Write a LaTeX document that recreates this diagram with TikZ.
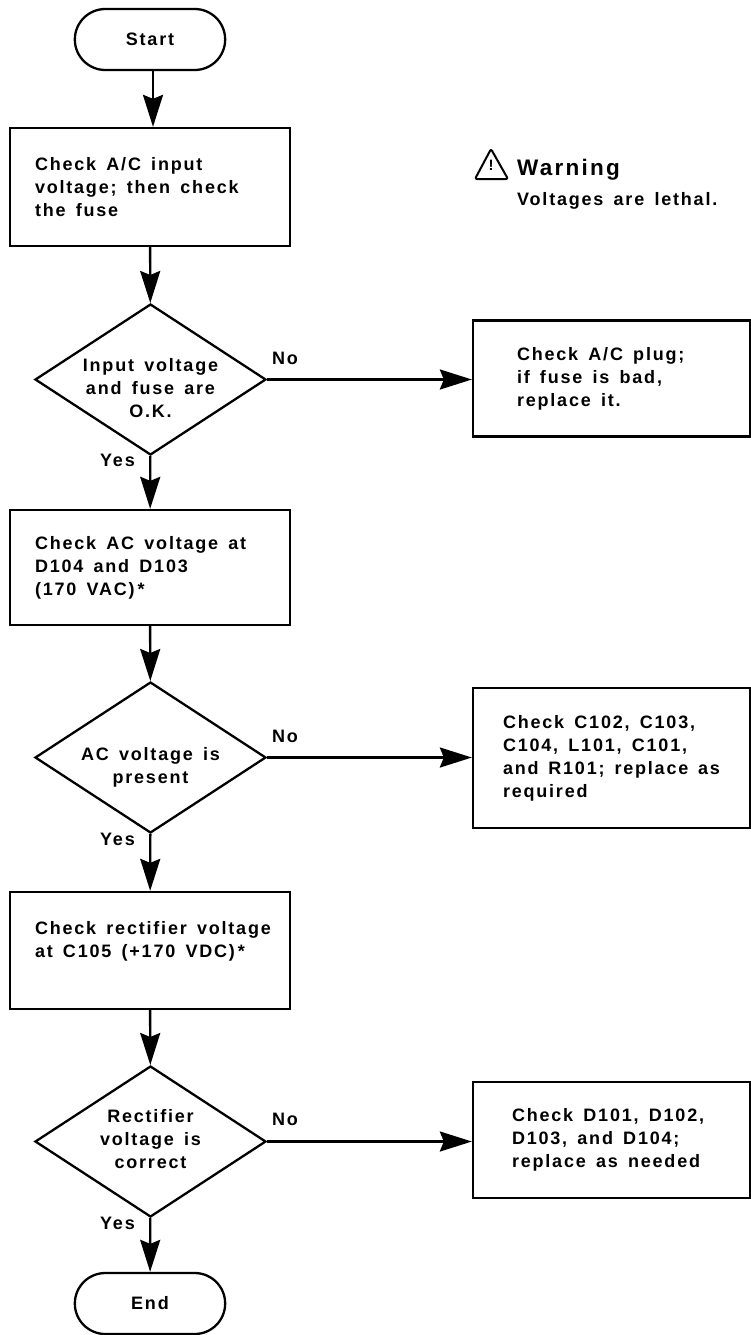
\documentclass[tikz,border=0pt]{standalone}
\usepackage{fontspec}
\setmainfont{Liberation Sans}[LetterSpace=10,WordSpace=1.5]
\usepackage{tikz}
\usetikzlibrary{calc,arrows.meta,shapes.geometric,shapes.misc}
\def\bodyfont{\fontsize{18}{23}\selectfont\bfseries}
\tikzset{
    flowline/.style={line width=2.4pt,-{Stealth[length=32pt,width=20pt,inset=4pt]}},
    outline/.style={draw,line width=2.3pt},
    stepbox/.style={outline,rectangle,minimum height=#1,text width=230pt,inner xsep=25pt,inner ysep=0pt,align=flush left,font=\bodyfont},
    stepbox/.default=116pt,
    sidebox/.style={outline,rectangle,minimum height=116pt,text width={277pt-2*#1},inner xsep=#1,inner ysep=0pt,align=flush left,font=\bodyfont},
    query/.style={outline,diamond,aspect=1.53,inner sep=0pt,minimum width=231pt,minimum height=151pt},
    querytext/.style={align=center,inner sep=0pt,font=\bodyfont},
    terminal/.style={outline,rounded rectangle,minimum width=157pt,minimum height=61pt,font=\bodyfont},
    tag/.style={inner sep=0pt,font=\bodyfont},
}
\hfuzz=20pt
\begin{document}
\begin{tikzpicture}[x=1pt,y=-1pt]
    \useasboundingbox (0,0) rectangle (751,1335);
    \node[terminal] (start) at (150,39.5) {Start};
    \node[stepbox=118pt] (check1) at (150,187) {Check A/C input\\voltage; then check\\the fuse};
    \node[query] (q1) at (150.5,379.5) {};
    \node[querytext] (q1text) at (150.5,388) {Input voltage\\and fuse are\\O.K.};
    \node[sidebox=44pt] (fix1) at (611.5,378.5) {Check A/C plug;\\if fuse is bad,\\replace it.};
    \node[stepbox=115pt] (check2) at (150,567.5) {Check AC voltage at\\D104 and D103\\(170 VAC)\,*};
    \node[query] (q2) at (150.5,757.5) {};
    \node[querytext] (q2text) at (150.5,767) {AC voltage is\\present};
    \node[sidebox=30pt,minimum height=140pt] (fix2) at (611.5,758) {Check C102, C103,\\C104, L101, C101,\\and R101; replace as\\required};
    \node[stepbox=117pt] (check3) at (150,950.5) {\mbox{Check rectifier voltage}\\at C105 (+170 VDC)\,*\\\mbox{}};
    \node[query] (q3) at (150.5,1141.5) {};
    \node[querytext] (q3text) at (150.5,1139.5) {Rectifier\\voltage is\\correct};
    \node[sidebox=39pt] (fix3) at (611.5,1140) {Check D101, D102,\\D103, and D104;\\replace as needed};
    \node[terminal] (end) at (150,1303.5) {End};
    % warning note
    \draw[line width=2pt,line join=round,rounded corners=2pt] (475,179) -- (491,149) -- (508,179) -- cycle;
    \node[tag,anchor=center] (mark) at (491,165.5) {\fontsize{15}{15}\selectfont !};
    \node[tag,anchor=base west] (warn) at (517,175) {\fontsize{22.5}{25}\selectfont Warning};
    \node[tag,anchor=base west] (lethal) at (517,205) {Voltages are lethal.};
    \node[tag,anchor=base west] (no1) at (272,364) {No};
    \node[tag,anchor=base east] (yes1) at (135,466) {Yes};
    \node[tag,anchor=base west] (no2) at (272,742) {No};
    \node[tag,anchor=base east] (yes2) at (135,845) {Yes};
    \node[tag,anchor=base west] (no3) at (272,1125) {No};
    \node[tag,anchor=base east] (yes3) at (135,1229) {Yes};
    \draw[flowline] ([xshift=3pt]start.south) -- ([xshift=3pt]check1.north);
    \draw[flowline] (check1) -- (q1);
    \draw[flowline] (q1) -- (check2);
    \draw[flowline] (check2) -- (q2);
    \draw[flowline] (q2) -- (check3);
    \draw[flowline] (check3) -- (q3);
    \draw[flowline] (q3) -- (end);
    \draw[flowline] (q1) -- (q1 -| fix1.west);
    \draw[flowline] (q2) -- (q2 -| fix2.west);
    \draw[flowline] (q3) -- (q3 -| fix3.west);
\end{tikzpicture}
\end{document}
